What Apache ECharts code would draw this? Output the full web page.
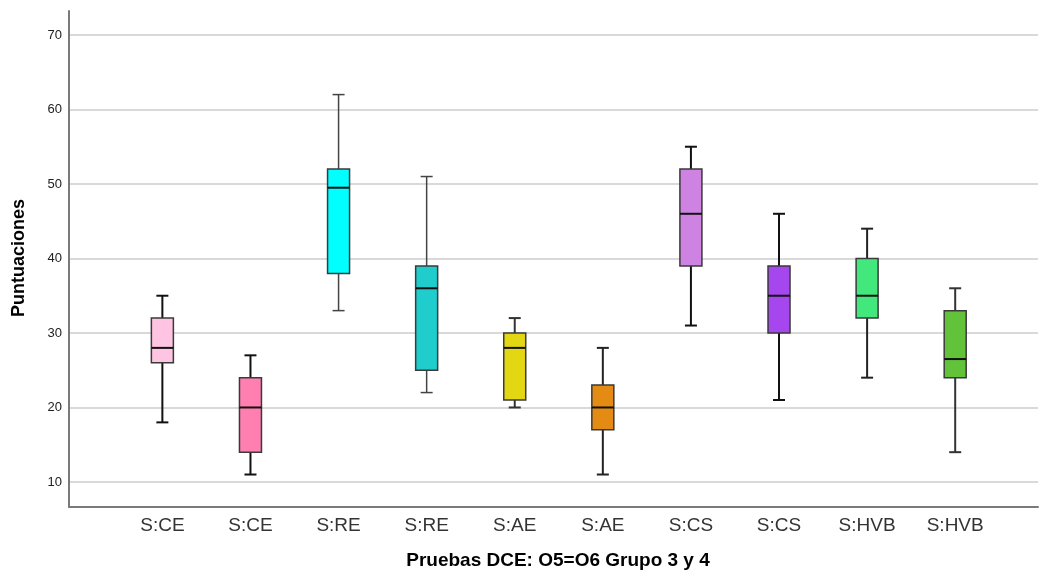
<!DOCTYPE html>
<html>
<head>
<meta charset="utf-8">
<script src="https://cdn.jsdelivr.net/npm/echarts@6/dist/echarts.min.js"></script>
<style>
  html, body { margin: 0; padding: 0; background: #fff; }
  #chart { width: 1039px; height: 572px; }
</style>
</head>
<body>
<div id="chart"></div>
<script>
// datos de las cajas
const categories = ['S:CE', 'S:CE', 'S:RE', 'S:RE', 'S:AE', 'S:AE', 'S:CS', 'S:CS', 'S:HVB', 'S:HVB'];
const minVals    = [18, 11, 33, 22, 20, 11, 31, 21, 24, 14];
const q1Vals     = [26, 14, 38, 25, 21, 17, 39, 30, 32, 24];
const medianVals = [28, 20, 49.5, 36, 28, 20, 46, 35, 35, 26.5];
const q3Vals     = [32, 24, 52, 39, 30, 23, 52, 39, 40, 33];
const maxVals    = [35, 27, 62, 51, 32, 28, 55, 46, 44, 36];
const yTicks     = [10, 20, 30, 40, 50, 60, 70];

// colores
const boxColors = ['#ffc4e2', '#ff80b0', '#00ffff', '#1fcdcd', '#e3d612', '#e38b12',
                   '#ce82e2', '#a646ee', '#43e87c', '#62c23a'];
const whiskerColors = ['#111', '#111', '#444', '#444', '#333', '#222', '#111', '#111', '#222', '#333'];
const whiskerWidths = [2, 2, 1.5, 1.5, 2, 2, 2, 2, 2, 2];

const FONT = '"Liberation Sans", Arial, sans-serif';
const BOX_W = 22;
const CAP_W = 12;

const seriesData = categories.map((c, i) =>
    [i + 1, minVals[i], q1Vals[i], medianVals[i], q3Vals[i], maxVals[i]]);

const renderBox = (params, api) => {
    const i = params.dataIndex;
    const x = api.value(0);
    const pMin = api.coord([x, api.value(1)]);
    const pQ1 = api.coord([x, api.value(2)]);
    const pMed = api.coord([x, api.value(3)]);
    const pQ3 = api.coord([x, api.value(4)]);
    const pMax = api.coord([x, api.value(5)]);
    const cx = pMin[0];
    const wStyle = { stroke: whiskerColors[i], lineWidth: whiskerWidths[i] };

    return {
        type: 'group',
        children: [
            { type: 'line', shape: { x1: cx, y1: pMax[1], x2: cx, y2: pQ3[1] }, style: wStyle },
            { type: 'line', shape: { x1: cx, y1: pQ1[1], x2: cx, y2: pMin[1] }, style: wStyle },
            { type: 'line', shape: { x1: cx - CAP_W / 2, y1: pMax[1], x2: cx + CAP_W / 2, y2: pMax[1] }, style: wStyle },
            { type: 'line', shape: { x1: cx - CAP_W / 2, y1: pMin[1], x2: cx + CAP_W / 2, y2: pMin[1] }, style: wStyle },
            {
                type: 'rect',
                shape: { x: cx - BOX_W / 2, y: pQ3[1], width: BOX_W, height: pQ1[1] - pQ3[1] },
                style: { fill: boxColors[i], stroke: '#3a3a3a', lineWidth: 1.5 }
            },
            {
                type: 'line',
                shape: { x1: cx - BOX_W / 2, y1: pMed[1], x2: cx + BOX_W / 2, y2: pMed[1] },
                style: { stroke: '#111', lineWidth: 2 }
            }
        ]
    };
};

const myChart = echarts.init(document.getElementById('chart'));

myChart.setOption({
    animation: false,
    backgroundColor: '#fff',
    grid: { left: 69, right: 1, top: 11, bottom: 65 },
    xAxis: {
        type: 'value',
        min: -0.06,
        max: 10.94,
        axisLine: { show: true, onZero: false, lineStyle: { color: '#7a7a7a', width: 2 } },
        axisTick: { show: false },
        splitLine: { show: false },
        axisLabel: {
            customValues: categories.map((c, i) => i + 1),
            formatter: (v) => categories[Math.round(v) - 1] || '',
            color: '#333',
            fontSize: 19,
            fontFamily: FONT,
            margin: 9
        }
    },
    yAxis: {
        type: 'value',
        min: 6.64,
        max: 73.22,
        axisLine: { show: true, onZero: false, lineStyle: { color: '#7a7a7a', width: 2 } },
        axisTick: { show: false, customValues: yTicks },
        splitLine: { show: true, lineStyle: { color: '#cccccc', width: 1.5 } },
        axisLabel: {
            customValues: yTicks,
            color: '#222',
            fontSize: 13,
            fontFamily: FONT,
            margin: 7
        }
    },
    graphic: [
        {
            type: 'text',
            x: 19.5,
            y: 258,
            rotation: Math.PI / 2,
            style: {
                text: 'Puntuaciones',
                font: 'bold 18px ' + FONT,
                fill: '#000',
                align: 'center',
                verticalAlign: 'middle'
            }
        },
        {
            type: 'text',
            x: 558,
            y: 561,
            style: {
                text: 'Pruebas DCE: O5=O6 Grupo 3 y 4',
                font: 'bold 19px ' + FONT,
                fill: '#000',
                align: 'center',
                verticalAlign: 'middle'
            }
        }
    ],
    series: [{
        type: 'custom',
        renderItem: renderBox,
        encode: { x: 0, y: [1, 2, 3, 4, 5] },
        data: seriesData,
        clip: false
    }]
});
</script>
</body>
</html>
